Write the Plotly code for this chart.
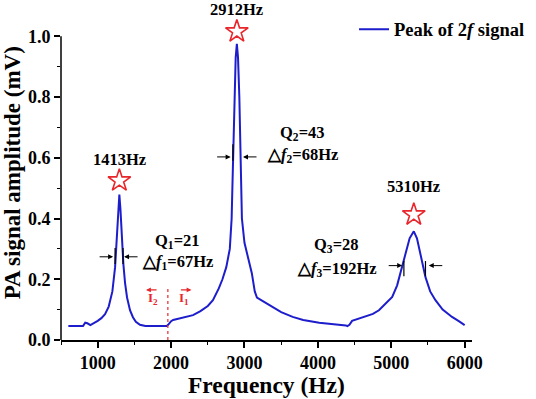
import plotly.graph_objects as go

freq = [600, 700, 800, 830, 860, 900, 950, 1000, 1050, 1100, 1150, 1170, 1200, 1237, 1260, 1280, 1295,
        1310, 1330, 1350, 1373, 1400, 1440, 1480, 1520, 1576, 1650, 1800, 1940, 1960, 2000, 2028, 2100,
        2200, 2299, 2400, 2500, 2570, 2650, 2700, 2752, 2800, 2825, 2835, 2848, 2862, 2880, 2896, 2912,
        2930, 2945, 2955, 2965, 3000, 3050, 3100, 3140, 3170, 3250, 3340, 3385, 3500, 3656, 3800, 4018,
        4100, 4200, 4300, 4380, 4402, 4430, 4466, 4550, 4652, 4750, 4832, 4920, 5013, 5080, 5149, 5200,
        5250, 5307, 5350, 5400, 5466, 5530, 5602, 5700, 5828, 5920, 6000]
amp = [0.046, 0.045, 0.046, 0.057, 0.055, 0.049, 0.055, 0.063, 0.072, 0.085, 0.11, 0.131, 0.16, 0.24, 0.33, 0.43, 0.479,
       0.43, 0.33, 0.25, 0.187, 0.14, 0.098, 0.075, 0.06, 0.05, 0.046, 0.045, 0.046, 0.05, 0.062, 0.066, 0.07,
       0.075, 0.082, 0.095, 0.112, 0.131, 0.17, 0.2, 0.24, 0.30, 0.40, 0.5, 0.65, 0.8, 0.93, 0.975, 0.93,
       0.8, 0.65, 0.5, 0.4, 0.32, 0.27, 0.22, 0.16, 0.14, 0.128, 0.115, 0.109, 0.092, 0.076, 0.066, 0.057,
       0.055, 0.053, 0.052, 0.048, 0.046, 0.05, 0.063, 0.07, 0.076, 0.086, 0.098, 0.118, 0.142, 0.18, 0.24, 0.29,
       0.335, 0.358, 0.335, 0.28, 0.207, 0.16, 0.131, 0.1, 0.076, 0.062, 0.049]

star_x = [1295, 2896, 5307]
star_y = [0.525, 1.016, 0.413]
peak_labels = ["1413Hz", "2912Hz", "5310Hz"]
peak_label_y = [0.593, 1.088, 0.504]

q_labels = ["Q<sub>1</sub>=21", "Q<sub>2</sub>=43", "Q<sub>3</sub>=28"]
df_labels = ["△<i>f</i><sub>1</sub>=67Hz", "△<i>f</i><sub>2</sub>=68Hz", "△<i>f</i><sub>3</sub>=192Hz"]
q_x = [2092, 3793, 4256]
q_y = [0.326, 0.682, 0.313]
df_y = [0.257, 0.61, 0.234]

# width markers: (left tip, right tip, y)
arrow_left = [1210, 2811, 5149]
arrow_right = [1359, 2980, 5511]
arrow_y = [0.274, 0.603, 0.245]
bars = [(1237, 0.25, 0.303), (1345, 0.25, 0.303), (2842, 0.59, 0.645), (5172, 0.21, 0.26), (5466, 0.21, 0.26)]

divide_x = 1956
divide_top = 0.171

FONT = "Liberation Serif"
RED = "#e8262b"
BLUE = "#1d1dcc"

fig = go.Figure()
fig.add_trace(go.Scatter(x=freq, y=amp, mode="lines", name="Peak of 2<i>f</i> signal",
                         line=dict(color=BLUE, width=2)))
fig.add_trace(go.Scatter(x=star_x, y=star_y, mode="markers", showlegend=False, cliponaxis=False,
                         marker=dict(symbol="star-open", size=17, color=RED, line=dict(width=1.6, color=RED))))

ann = []
for x, y, t in zip(star_x, peak_label_y, peak_labels):
    ann.append(dict(x=x, y=y, text=t, showarrow=False, font=dict(size=16.5)))
for x, y1, y2, t1, t2 in zip(q_x, q_y, df_y, q_labels, df_labels):
    ann.append(dict(x=x, y=y1, text=t1, showarrow=False, font=dict(size=16.5)))
    ann.append(dict(x=x, y=y2, text=t2, showarrow=False, font=dict(size=16.5)))
for xl, xr, y in zip(arrow_left, arrow_right, arrow_y):
    ann.append(dict(x=xl, y=y, ax=-15, ay=0, text="", showarrow=True, arrowhead=2, arrowsize=1,
                    arrowwidth=1, arrowcolor="black"))
    ann.append(dict(x=xr, y=y, ax=15, ay=0, text="", showarrow=True, arrowhead=2, arrowsize=1,
                    arrowwidth=1, arrowcolor="black"))
# I2 / I1 arrows
ann.append(dict(x=1659, y=0.165, ax=12, ay=0, text="", showarrow=True, arrowhead=2, arrowsize=0.8,
                arrowwidth=1.2, arrowcolor=RED))
ann.append(dict(x=2277, y=0.165, ax=-12, ay=0, text="", showarrow=True, arrowhead=2, arrowsize=0.8,
                arrowwidth=1.2, arrowcolor=RED))
ann.append(dict(x=1752, y=0.138, text="I<sub>2</sub>", showarrow=False, font=dict(size=13, color=RED)))
ann.append(dict(x=2173, y=0.138, text="I<sub>1</sub>", showarrow=False, font=dict(size=13, color=RED)))
# axis titles
ann.append(dict(xref="paper", yref="paper", x=0.5, y=0, yshift=-45, xanchor="center", yanchor="middle",
                text="Frequency (Hz)", showarrow=False, font=dict(size=23.5)))
ann.append(dict(xref="paper", yref="paper", x=0, y=0.499, xshift=-49, xanchor="center", yanchor="middle",
                text="PA signal amplitude (mV)", textangle=-90, showarrow=False, font=dict(size=23)))

shapes = []
for bx, y0, y1 in bars:
    shapes.append(dict(type="line", x0=bx, x1=bx, y0=y0, y1=y1, line=dict(color="black", width=1.2)))
shapes.append(dict(type="line", x0=divide_x, x1=divide_x, y0=0, y1=divide_top,
                   line=dict(color=RED, width=1.2, dash="dot")))
# y axis line (only up to 1.0)
shapes.append(dict(type="line", xref="paper", yref="y", x0=0, x1=0, y0=0, y1=1.0,
                   line=dict(color="black", width=1.5)))

fig.update_layout(
    width=536, height=399,
    margin=dict(l=61, r=61, t=6, b=59),
    paper_bgcolor="white", plot_bgcolor="white",
    font=dict(family=FONT, color="black", size=15, weight="bold"),
    annotations=ann, shapes=shapes,
    legend=dict(x=0.713, y=0.929, xanchor="left", yanchor="middle", bgcolor="rgba(0,0,0,0)",
                font=dict(size=18.5, family=FONT, weight="bold")),
    xaxis=dict(range=[500, 6100], tick0=0, dtick=1000, showline=True, linecolor="black", linewidth=1.5,
               ticks="outside", ticklen=6, tickwidth=1.5, tickcolor="black", showgrid=False, zeroline=False,
               automargin=False,
               minor=dict(dtick=500, ticks="outside", ticklen=3, tickwidth=1.2, tickcolor="black", showgrid=False),
               tickfont=dict(size=18, family=FONT, weight="bold")),
    yaxis=dict(range=[0, 1.1], tickvals=[0, 0.2, 0.4, 0.6, 0.8, 1.0], tickformat=".1f", showline=False,
               ticks="outside", ticklen=6, tickwidth=1.5, tickcolor="black", showgrid=False,
               zeroline=False, automargin=False,
               minor=dict(tickvals=[0.1, 0.3, 0.5, 0.7, 0.9], ticks="outside", ticklen=3, tickwidth=1.2,
                          tickcolor="black", showgrid=False),
               tickfont=dict(size=18, family=FONT, weight="bold")),
)
fig.write_html("out.html", config={"displayModeBar": False},
               post_script="document.body.style.margin='0px';")
